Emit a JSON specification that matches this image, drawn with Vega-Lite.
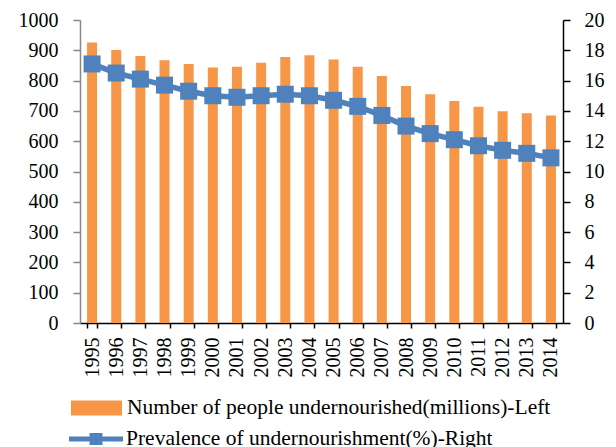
{
  "$schema": "https://vega.github.io/schema/vega-lite/v6.json",
  "width": 483,
  "height": 303,
  "autosize": {"type": "none"},
  "padding": {"left": 80, "top": 20, "right": 53, "bottom": 124},
  "background": "white",
  "config": {
    "view": {"stroke": null},
    "font": "Liberation Serif",
    "axis": {"grid": false, "labelFont": "Liberation Serif", "labelFontSize": 20, "labelColor": "#000000", "titleFont": "Liberation Serif"},
    "legend": {"labelFont": "Liberation Serif", "labelFontSize": 21.5, "labelColor": "#000000", "labelLimit": 0}
  },
  "data": {
    "values": [
      {"year": "1995", "people": 926, "prev": 17.1},
      {"year": "1996", "people": 901, "prev": 16.5},
      {"year": "1997", "people": 881, "prev": 16.1},
      {"year": "1998", "people": 867, "prev": 15.7},
      {"year": "1999", "people": 855, "prev": 15.3},
      {"year": "2000", "people": 843, "prev": 15.0},
      {"year": "2001", "people": 846, "prev": 14.9},
      {"year": "2002", "people": 859, "prev": 15.0},
      {"year": "2003", "people": 878, "prev": 15.1},
      {"year": "2004", "people": 884, "prev": 15.0},
      {"year": "2005", "people": 870, "prev": 14.7},
      {"year": "2006", "people": 846, "prev": 14.3},
      {"year": "2007", "people": 815, "prev": 13.7},
      {"year": "2008", "people": 782, "prev": 13.0},
      {"year": "2009", "people": 755, "prev": 12.5},
      {"year": "2010", "people": 733, "prev": 12.1},
      {"year": "2011", "people": 714, "prev": 11.7},
      {"year": "2012", "people": 699, "prev": 11.4},
      {"year": "2013", "people": 692, "prev": 11.2},
      {"year": "2014", "people": 685, "prev": 10.9}
    ]
  },
  "encoding": {
    "x": {
      "field": "year",
      "type": "ordinal",
      "scale": {"paddingInner": 0.586, "paddingOuter": 0.293},
      "axis": {
        "title": null,
        "labelAngle": -90,
        "labelPadding": 9,
        "tickBand": "extent",
        "tickSize": 5,
        "tickColor": "#000000",
        "domainColor": "#000000",
        "domainWidth": 1.5,
        "tickWidth": 1.5
      }
    }
  },
  "layer": [
    {
      "mark": {"type": "bar", "color": "#f79646"},
      "encoding": {
        "y": {
          "field": "people",
          "type": "quantitative",
          "scale": {"domain": [0, 1000], "nice": false},
          "axis": {
            "title": null,
            "orient": "left",
            "format": "d",
            "values": [0, 100, 200, 300, 400, 500, 600, 700, 800, 900, 1000],
            "tickSize": 7,
            "tickColor": "#888888",
            "domainColor": "#888888",
            "domainWidth": 1.5,
            "tickWidth": 1.5,
            "labelPadding": 15
          }
        },
        "fill": {
          "datum": "Number of people undernourished(millions)-Left",
          "scale": {"range": ["#f79646"]},
          "legend": {
            "title": null,
            "orient": "none",
            "legendX": -9,
            "legendY": 362.5,
            "padding": 0,
            "symbolType": "M-1,-0.29L1,-0.29L1,0.29L-1,0.29Z",
            "symbolSize": 2601,
            "symbolStrokeWidth": 0,
            "labelOffset": 5
          }
        }
      }
    },
    {
      "mark": {"type": "line", "strokeWidth": 5.5},
      "encoding": {
        "y": {
          "field": "prev",
          "type": "quantitative",
          "scale": {"domain": [0, 20], "nice": false},
          "axis": {
            "title": null,
            "orient": "right",
            "values": [0, 2, 4, 6, 8, 10, 12, 14, 16, 18, 20],
            "tickSize": 7,
            "tickColor": "#000000",
            "domainColor": "#000000",
            "domainWidth": 1.5,
            "tickWidth": 1.5,
            "labelPadding": 14
          }
        },
        "stroke": {
          "datum": "Prevalence of undernourishment(%)-Right",
          "scale": {"range": ["#4f81bd"]},
          "legend": {
            "title": null,
            "orient": "none",
            "legendX": -11,
            "legendY": 392,
            "padding": 0,
            "symbolType": "M-1,-0.09L1,-0.09L1,0.09L-1,0.09Z M-0.24,-0.22L0.24,-0.22L0.24,0.22L-0.24,0.22Z",
            "symbolSize": 2916,
            "labelOffset": 3,
            "encode": {"symbols": {"update": {"fill": {"value": "#4f81bd"}, "strokeWidth": {"value": 0}}}}
          }
        }
      }
    },
    {
      "mark": {"type": "point", "shape": "square", "filled": true, "size": 289, "color": "#4f81bd", "opacity": 1},
      "encoding": {
        "y": {"field": "prev", "type": "quantitative", "scale": {"domain": [0, 20], "nice": false}, "axis": null}
      }
    }
  ],
  "resolve": {"scale": {"y": "independent"}}
}
